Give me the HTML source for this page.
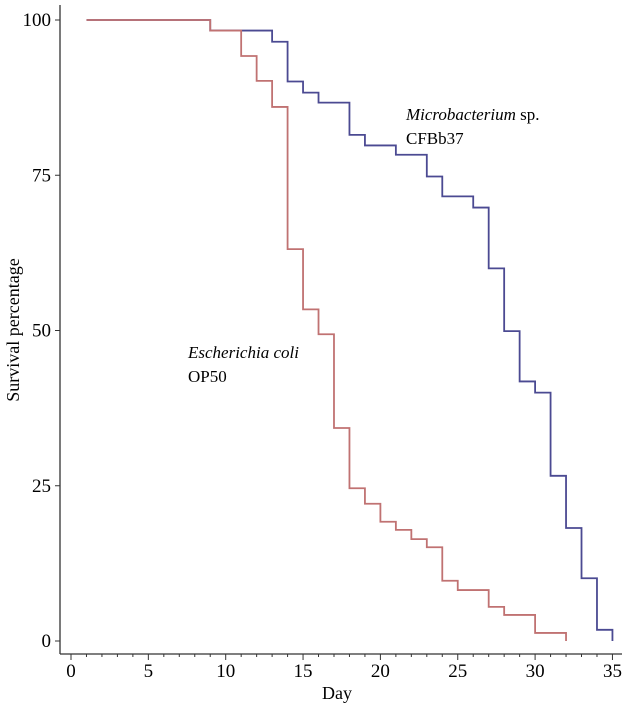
<!DOCTYPE html>
<html><head><meta charset="utf-8"><style>
body{margin:0;background:#fff}
svg{display:block;font-family:"Liberation Serif",serif}
</style></head><body>
<svg id="chart" width="626" height="713" viewBox="0 0 626 713" xmlns="http://www.w3.org/2000/svg">
<g id="axes"></g>
<g id="series"></g>
<text transform="translate(19,330) rotate(-90)" text-anchor="middle" font-size="18">Survival percentage</text>
<text x="337" y="699" text-anchor="middle" font-size="18">Day</text>
<text x="406" y="120" font-size="17"><tspan font-style="italic">Microbacterium</tspan> sp.</text>
<text x="406" y="144" font-size="17">CFBb37</text>
<text x="188" y="358" font-size="17" font-style="italic">Escherichia coli</text>
<text x="188" y="382" font-size="17">OP50</text>
</svg>
<script>
const ecoliDays = [1, 9, 11, 12, 13, 14, 15, 16, 17, 18, 19, 20, 21, 22, 23, 24, 25, 27, 28, 30, 32];
const ecoliSurv = [100, 98.3, 94.2, 90.2, 86.0, 63.1, 53.4, 49.4, 34.3, 24.6, 22.1, 19.2, 17.9, 16.4, 15.1, 9.7, 8.2, 5.5, 4.2, 1.3, 0];
const microDays = [9, 13, 14, 15, 16, 18, 19, 21, 23, 24, 26, 27, 28, 29, 30, 31, 32, 33, 34, 35];
const microSurv = [98.3, 96.5, 90.1, 88.3, 86.7, 81.5, 79.8, 78.3, 74.8, 71.6, 69.8, 60.0, 49.9, 41.8, 40.0, 26.6, 18.2, 10.1, 1.8, 0];
const xTicks = [0, 5, 10, 15, 20, 25, 30, 35];
const yTicks = [0, 25, 50, 75, 100];

const NS = "http://www.w3.org/2000/svg";
const X = d => 71 + d * 15.47;
const Y = v => 641 - v * 6.21;
const axes = document.getElementById('axes');
const series = document.getElementById('series');
function mk(tag, attrs, parent) {
  const e = document.createElementNS(NS, tag);
  for (const k in attrs) e.setAttribute(k, attrs[k]);
  parent.appendChild(e);
  return e;
}
const yl = mk('line', {x1: 60, y1: 5, x2: 60, y2: 654, stroke: '#333', 'stroke-width': 1.3}, axes);


const xl = mk('line', {x1: 60, y1: 654, x2: 622, y2: 654, stroke: '#333', 'stroke-width': 1.3}, axes);


for (let d = 0; d <= 35; d++) {
  const major = d % 5 === 0;
  const t = mk('line', {x1: X(d), y1: 654, x2: X(d), y2: 654 + (major ? 6 : 3), stroke: '#333', 'stroke-width': 1}, axes);
  
  
}
xTicks.forEach(v => {
  const t = mk('text', {x: X(v), y: 677, 'text-anchor': 'middle', 'font-size': 19}, axes);
  t.textContent = v;
  
  
});
yTicks.forEach(v => {
  const tk = mk('line', {x1: 55, y1: Y(v), x2: 60, y2: Y(v), stroke: '#333', 'stroke-width': 1}, axes);
  
  
  const t = mk('text', {x: 51, y: Y(v) + 6, 'text-anchor': 'end', 'font-size': 19}, axes);
  t.textContent = v;
  
  
});
function stepPath(days, surv, startDay, startVal) {
  let d = 'M' + X(startDay) + ' ' + Y(startVal);
  for (let i = 0; i < days.length; i++) {
    d += ' H' + X(days[i]) + ' V' + Y(surv[i]);
  }
  return d;
}
const blue = mk('path', {d: stepPath(microDays, microSurv, 1, 100), fill: 'none', stroke: '#4b4a92', 'stroke-width': 1.8}, series);


const red = mk('path', {d: stepPath(ecoliDays.slice(1), ecoliSurv.slice(1), ecoliDays[0], ecoliSurv[0]), fill: 'none', stroke: '#c07272', 'stroke-width': 1.8}, series);


</script>
</body></html>
